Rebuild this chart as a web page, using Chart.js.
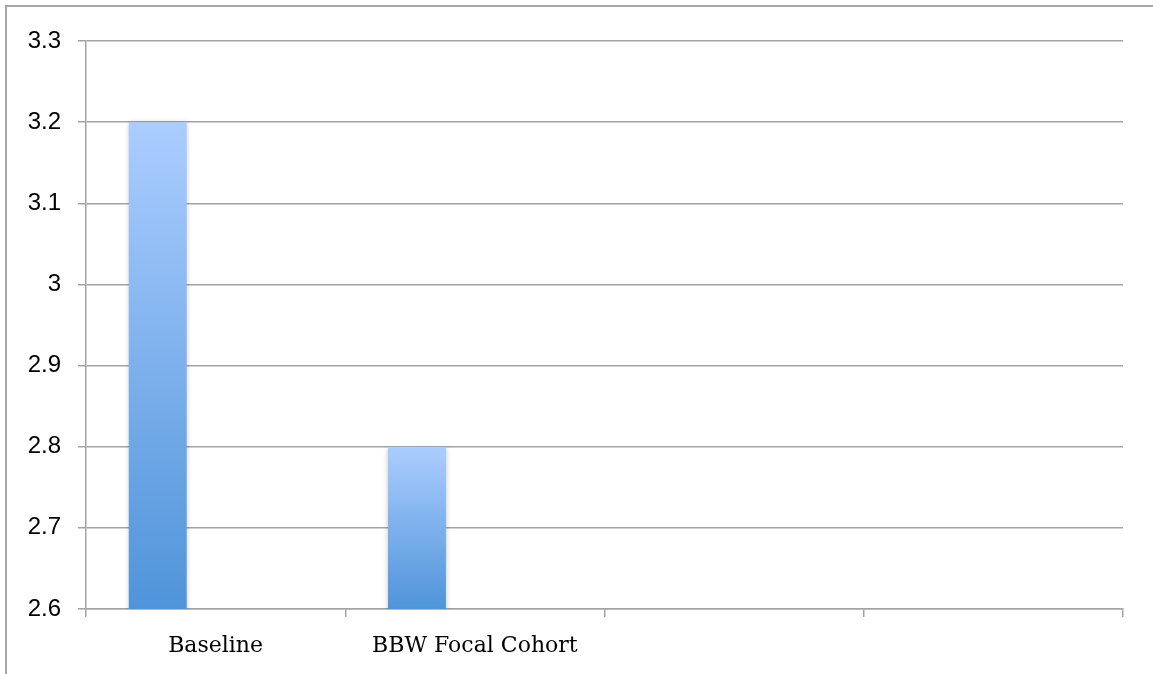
<!DOCTYPE html>
<html>
<head>
<meta charset="utf-8">
<script src="https://cdn.jsdelivr.net/npm/chart.js@4.4.1/dist/chart.umd.min.js"></script>
<style>
  html, body { margin: 0; padding: 0; background: #ffffff; }
  #wrap { width: 1153px; height: 674px; position: relative; }
</style>
</head>
<body>
<div id="wrap"><canvas id="c" width="1153" height="674"></canvas></div>
<script>
// ---- data ----
const categories = ["Baseline", "BBW Focal Cohort", "", ""];
const series1 = [3.2, 2.8, null, null];
const series2 = [null, null, null, null];
const series3 = [null, null, null, null];
const yTickValues = [2.6, 2.7, 2.8, 2.9, 3.0, 3.1, 3.2, 3.3];
const yTickLabels = ["2.6", "2.7", "2.8", "2.9", "3", "3.1", "3.2", "3.3"];

const GRID = '#a3a3a3';

function barGradient(ctx) {
  const chart = ctx.chart;
  if (!chart.chartArea || ctx.raw == null) return '#7fb0ec';
  const y = chart.scales.y;
  const top = y.getPixelForValue(ctx.raw);
  const bottom = y.getPixelForValue(y.min);
  const g = chart.ctx.createLinearGradient(0, top, 0, bottom);
  g.addColorStop(0, '#abcdff');
  g.addColorStop(1, '#4f94d9');
  return g;
}

const framePlugin = {
  id: 'frame',
  beforeDraw(chart) {
    const c = chart.ctx;
    c.save();
    c.strokeStyle = '#a6a6a6';
    c.lineWidth = 2;
    c.beginPath();
    c.moveTo(6, chart.height);
    c.lineTo(6, 6);
    c.lineTo(chart.width, 6);
    c.stroke();
    c.restore();
  }
};

const shadowPlugin = {
  id: 'barShadow',
  beforeDatasetDraw(chart) {
    const c = chart.ctx;
    c.save();
    c.shadowColor = 'rgba(0,0,0,0.25)';
    c.shadowBlur = 5;
    c.shadowOffsetX = 0;
    c.shadowOffsetY = 1;
  },
  afterDatasetDraw(chart) {
    chart.ctx.restore();
  }
};

new Chart(document.getElementById('c'), {
  type: 'bar',
  data: {
    labels: categories,
    datasets: [
      { label: 'Series 1', data: series1, backgroundColor: barGradient, borderWidth: 0 },
      { label: 'Series 2', data: series2, backgroundColor: '#4f94d9', borderWidth: 0 },
      { label: 'Series 3', data: series3, backgroundColor: '#4f94d9', borderWidth: 0 }
    ]
  },
  options: {
    responsive: false,
    animation: false,
    devicePixelRatio: 1,
    layout: { padding: { left: 0, right: 30, top: 41, bottom: 0 } },
    datasets: { bar: { categoryPercentage: 0.67, barPercentage: 1.0 } },
    plugins: {
      legend: { display: false },
      tooltip: { enabled: false },
      title: { display: false }
    },
    scales: {
      x: {
        type: 'category',
        offset: true,
        grid: {
          display: true,
          offset: true,
          drawOnChartArea: false,
          drawTicks: true,
          tickLength: 8,
          color: GRID,
          lineWidth: 1.5
        },
        border: { display: true, color: GRID, width: 1.5 },
        ticks: {
          color: '#000000',
          font: { family: '"DejaVu Serif"', size: 22 },
          padding: 16,
          maxRotation: 0,
          autoSkip: false
        },
        afterFit(scale) { scale.height = 65; }
      },
      y: {
        type: 'linear',
        min: 2.6,
        max: 3.3,
        grid: {
          display: true,
          drawOnChartArea: true,
          drawTicks: true,
          tickLength: 8,
          color: GRID,
          lineWidth: 1.5
        },
        border: { display: true, color: GRID, width: 1.5 },
        afterBuildTicks(scale) {
          scale.ticks = yTickValues.map(v => ({ value: v }));
        },
        ticks: {
          color: '#000000',
          font: { family: '"Liberation Sans", Arial, sans-serif', size: 24 },
          padding: 17,
          callback(value) {
            const i = yTickValues.findIndex(v => Math.abs(v - value) < 1e-9);
            return i >= 0 ? yTickLabels[i] : '';
          }
        },
        afterFit(scale) { scale.width = 86; }
      }
    }
  },
  plugins: [framePlugin, shadowPlugin]
});
</script>
</body>
</html>
